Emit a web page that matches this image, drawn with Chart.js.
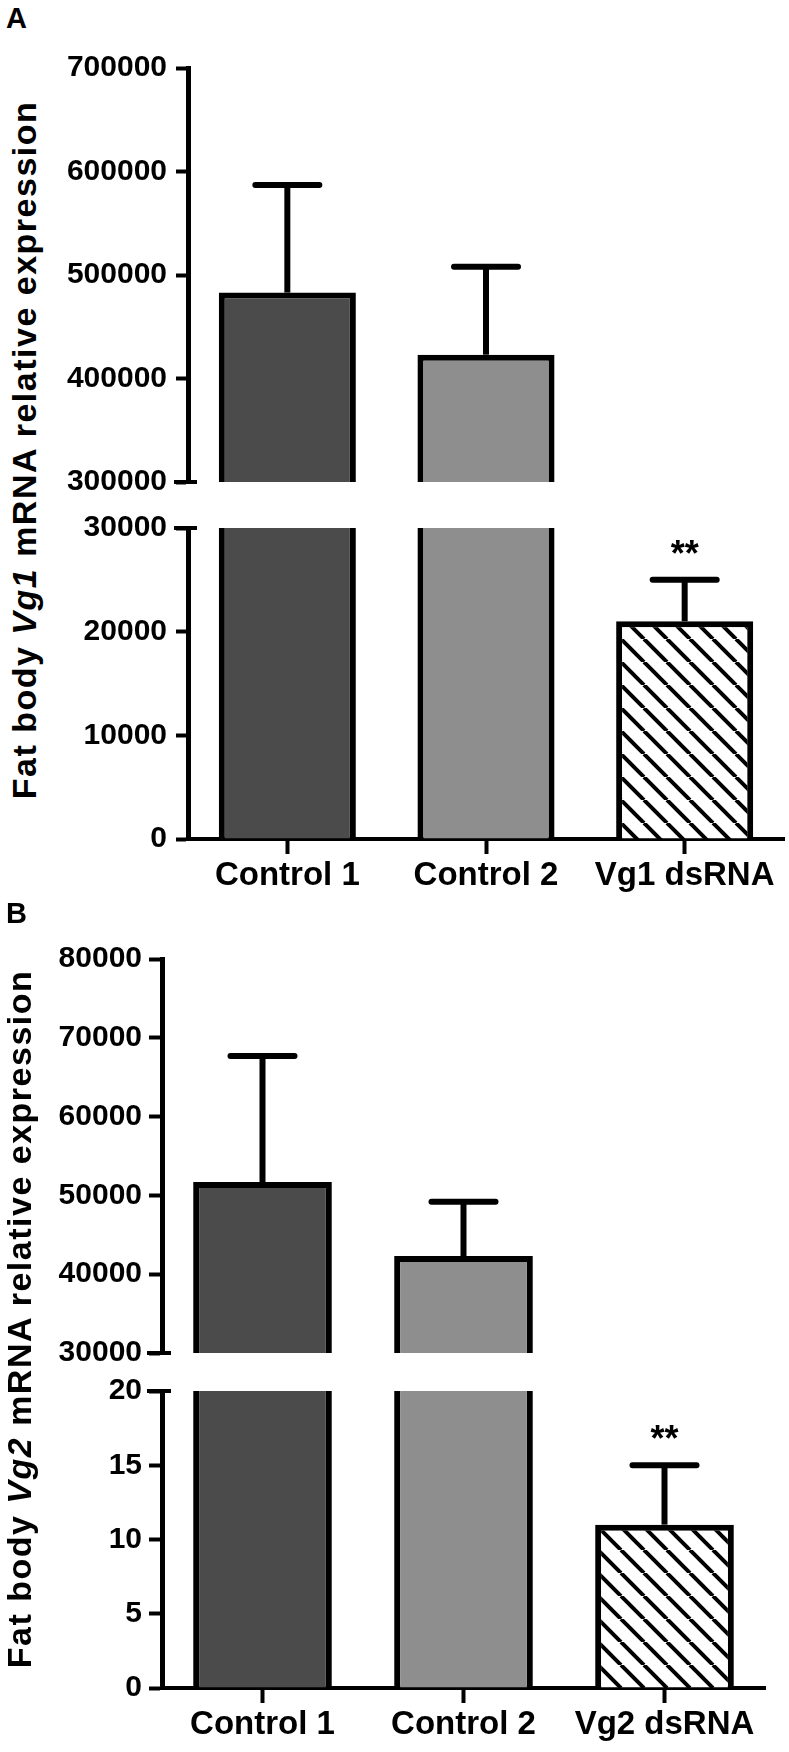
<!DOCTYPE html>
<html lang="en">
<head>
  <meta charset="UTF-8">
  <title>Fat body Vg1 / Vg2 expression</title>
  <script src="https://cdn.jsdelivr.net/npm/chart.js"></script>
  <style>
    body { margin: 0; background: #fff; font-family: 'Liberation Sans', Arial, sans-serif; }
    #page { position: relative; width: 789px; height: 1752px; overflow: hidden; }
    canvas { position: absolute; left: 0; }
    .letter { position: absolute; left: 6px; font-size: 29px; line-height: 29px; font-weight: bold; }
    .ytitle {
      position: absolute; width: 760px; height: 34px; line-height: 34px;
      font-size: 34px; font-weight: bold; letter-spacing: 1.5px;
      text-align: center; white-space: nowrap; transform: rotate(-90deg);
    }
  </style>
</head>
<body>
<div id="page">
  <div class="letter" style="top:4px">A</div>
  <div class="ytitle" style="left:-356px; top:433px">Fat body <i>Vg1</i> mRNA relative expression</div>
  <canvas id="aTop" width="789" height="468" style="top:41px"></canvas>
  <canvas id="aBot" width="789" height="398" style="top:501px"></canvas>

  <div class="letter" style="top:899px">B</div>
  <div class="ytitle" style="left:-361px; top:1302px">Fat body <i>Vg2</i> mRNA relative expression</div>
  <canvas id="bTop" width="789" height="444" style="top:934px"></canvas>
  <canvas id="bBot" width="789" height="382" style="top:1366px"></canvas>
</div>

<script>
  // Panel A - Vg1
  const categoriesA = ['Control 1', 'Control 2', 'Vg1 dsRNA'];
  const meansA = [483000, 423000, 21000];
  const semA = [104000, 85000, 4000];
  const sigA = ['', '', '**'];
  const upperRangeA = [300000, 700000];
  const upperStepA = 100000;
  const lowerRangeA = [0, 30000];
  const lowerStepA = 10000;

  // Panel B - Vg2
  const categoriesB = ['Control 1', 'Control 2', 'Vg2 dsRNA'];
  const meansB = [51700, 42300, 11];
  const semB = [16000, 6900, 4];
  const sigB = ['', '', '**'];
  const upperRangeB = [30000, 80000];
  const upperStepB = 10000;
  const lowerRangeB = [0, 20];
  const lowerStepB = 5;

  Chart.defaults.font.family = "'Liberation Sans', Arial, sans-serif";
  Chart.defaults.color = '#000';

  // diagonal hatch for the dsRNA bar
  function hatch() {
    const s = 23;
    const c = document.createElement('canvas');
    c.width = s; c.height = s;
    const g = c.getContext('2d');
    g.fillStyle = '#fff';
    g.fillRect(0, 0, s, s);
    g.strokeStyle = '#000';
    g.lineWidth = 4;
    [-s, 0, s].forEach(o => {
      g.beginPath();
      g.moveTo(o, 0);
      g.lineTo(o + s, s);
      g.stroke();
    });
    return g.createPattern(c, 'repeat');
  }
  const barFill = ['#4b4b4b', '#8e8e8e', hatch()];

  // error bars, stars and the axis break mark
  const extras = {
    id: 'extras',
    afterDatasetsDraw(chart, args, o) {
      const ctx = chart.ctx;
      const x = chart.scales.x, y = chart.scales.y;
      ctx.save();
      ctx.strokeStyle = '#000';
      ctx.fillStyle = '#000';
      ctx.lineWidth = 6;
      o.means.forEach((m, i) => {
        if (m < y.min || m > y.max) return;
        const px = x.getPixelForValue(i);
        const y0 = y.getPixelForValue(m);
        const y1 = y.getPixelForValue(m + o.sems[i]);
        ctx.lineCap = 'butt';
        ctx.beginPath(); ctx.moveTo(px, y0); ctx.lineTo(px, y1); ctx.stroke();
        ctx.lineCap = 'round';
        ctx.beginPath(); ctx.moveTo(px - 32, y1); ctx.lineTo(px + 32, y1); ctx.stroke();
        if (o.sig[i]) {
          ctx.font = "bold 36px 'Liberation Sans', Arial, sans-serif";
          ctx.textAlign = 'center';
          ctx.textBaseline = 'alphabetic';
          ctx.fillText(o.sig[i], px, y1 - 14);
        }
      });
      ctx.restore();
    },
    afterDraw(chart, args, o) {
      const ctx = chart.ctx, a = chart.chartArea;
      const yb = o.breakEdge === 'bottom' ? a.bottom : a.top;
      ctx.save();
      ctx.strokeStyle = '#000';
      ctx.lineWidth = 4;
      ctx.beginPath();
      ctx.moveTo(a.left - o.tickLen - 2, yb);
      ctx.lineTo(a.left + 9, yb);
      ctx.stroke();
      ctx.restore();
    }
  };

  function segment(id, cats, means, sems, sig, range, step, cfg) {
    const showX = cfg.breakEdge === 'top';
    new Chart(document.getElementById(id), {
      type: 'bar',
      data: {
        labels: cats,
        datasets: [{
          data: means,
          backgroundColor: barFill,
          borderColor: '#000',
          borderWidth: 6,
          borderSkipped: 'start',
          barPercentage: cfg.barPct,
          categoryPercentage: 1,
          clip: 0
        }]
      },
      options: {
        responsive: false,
        animation: false,
        devicePixelRatio: 1,
        layout: { padding: { top: 22, bottom: showX ? 0 : 22, left: 0, right: cfg.padRight } },
        scales: {
          x: {
            display: showX,
            offset: true,
            grid: { drawOnChartArea: false, offset: false, tickLength: 15, tickWidth: 4, tickColor: '#000' },
            border: { display: true, color: '#000', width: 4 },
            ticks: { font: { size: 33, weight: 'bold' }, padding: 2, maxRotation: 0, autoSkip: false },
            afterFit(s) { s.height = showX ? 60 : 0; }
          },
          y: {
            min: range[0],
            max: range[1],
            afterFit(s) { s.width = cfg.axisLeft; },
            ticks: { stepSize: step, font: { size: 30, weight: 'bold' }, padding: cfg.labelPad, callback: v => v },
            grid: { drawOnChartArea: false, tickLength: cfg.tickLen, tickWidth: 4, tickColor: '#000' },
            border: { color: '#000', width: 5 }
          }
        },
        plugins: {
          legend: { display: false },
          tooltip: { enabled: false },
          extras: { means: means, sems: sems, sig: sig, breakEdge: cfg.breakEdge, tickLen: cfg.tickLen }
        }
      },
      plugins: [extras]
    });
  }

  const cfgA = { axisLeft: 188, padRight: 5, tickLen: 12, labelPad: 9, barPct: 0.69 };
  const cfgB = { axisLeft: 162, padRight: 24, tickLen: 13, labelPad: 7, barPct: 0.69 };

  segment('aTop', categoriesA, meansA, semA, sigA, upperRangeA, upperStepA, { ...cfgA, breakEdge: 'bottom' });
  segment('aBot', categoriesA, meansA, semA, sigA, lowerRangeA, lowerStepA, { ...cfgA, breakEdge: 'top' });
  segment('bTop', categoriesB, meansB, semB, sigB, upperRangeB, upperStepB, { ...cfgB, breakEdge: 'bottom' });
  segment('bBot', categoriesB, meansB, semB, sigB, lowerRangeB, lowerStepB, { ...cfgB, breakEdge: 'top' });
</script>
</body>
</html>
